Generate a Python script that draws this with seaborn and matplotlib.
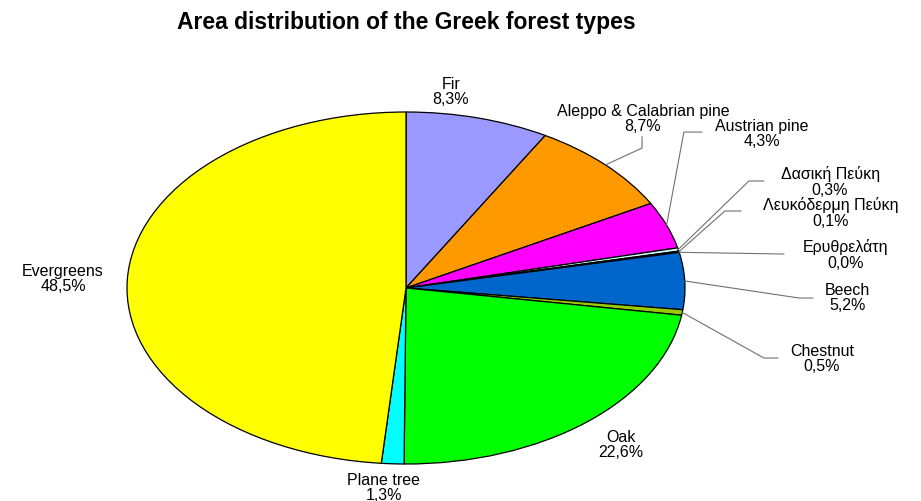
import matplotlib
matplotlib.use("Agg")
import matplotlib.pyplot as plt
import seaborn as sns
import numpy as np

# forest types, clockwise from 12 o'clock
forest_types = ["Fir", "Aleppo & Calabrian pine", "Austrian pine", "Δασική Πεύκη",
                "Λευκόδερμη Πεύκη", "Ερυθρελάτη", "Beech", "Chestnut", "Oak",
                "Plane tree", "Evergreens"]
area_share = [8.3, 8.7, 4.3, 0.3, 0.1, 0.02, 5.2, 0.5, 22.6, 1.3, 48.5]
slice_colors = ["#9999FF", "#FF9900", "#FF00FF", "#CCFFFF", "#660066", "#993366",
                "#0066CC", "#99CC00", "#00FF00", "#00FFFF", "#FFFF00"]

# label placement (data units of the stretched pie) and leader elbows (None = no leader)
label_pos = [(0.161, 1.119), (0.849, 0.966), (1.276, 0.881), (1.520, 0.608),
             (1.523, 0.432), (1.577, 0.193), (1.581, -0.051), (1.491, -0.398),
             (0.771, -0.886), (-0.079, -1.131), (-1.229, 0.057)]
leader_pts = [None,
              [(0.846, 0.795), (0.846, 0.86)],
              [(0.996, 0.886), (1.061, 0.886)],
              [(1.229, 0.608), (1.283, 0.608)],
              [(1.143, 0.4375), (1.201, 0.4375)],
              [(1.355, 0.193)],
              [(1.409, -0.057), (1.459, -0.057)],
              [(1.283, -0.398), (1.333, -0.398)],
              None, None, None]

sns.set_theme(style="white")
plt.rcParams['font.family'] = ['Liberation Sans', 'DejaVu Sans']

fig = plt.figure(figsize=(9.21, 5.02), dpi=100)
ax = fig.add_axes([0, 0, 1, 1])

wedges, _ = ax.pie(area_share, colors=slice_colors, startangle=90, counterclock=False,
                   wedgeprops=dict(edgecolor="black", linewidth=0.9))

# stretch the pie to an ellipse like the original
ax.set_aspect("auto")
ax.set_xlim(-406 / 279, (921 - 406) / 279)
ax.set_ylim(-213 / 176, 289 / 176)
ax.axis("off")

for w, name, val, pos, leader in zip(wedges, forest_types, area_share, label_pos, leader_pts):
    pct = f"{val:.1f}%".replace(".", ",")
    ax.text(pos[0], pos[1], f"{name}\n{pct}", ha="center", va="center",
            fontsize=11.5, linespacing=1.05, color="black")
    if leader is not None:
        mid = np.deg2rad((w.theta1 + w.theta2) / 2)
        xs = [np.cos(mid)] + [p[0] for p in leader]
        ys = [np.sin(mid)] + [p[1] for p in leader]
        ax.plot(xs, ys, color="#707070", lw=0.8)

fig.text(406 / 921, 1 - 22 / 502, "Area distribution of the Greek forest types",
         ha="center", va="center", fontsize=16.5, fontweight="bold", color="black")

fig.savefig("out.png", dpi=100)
